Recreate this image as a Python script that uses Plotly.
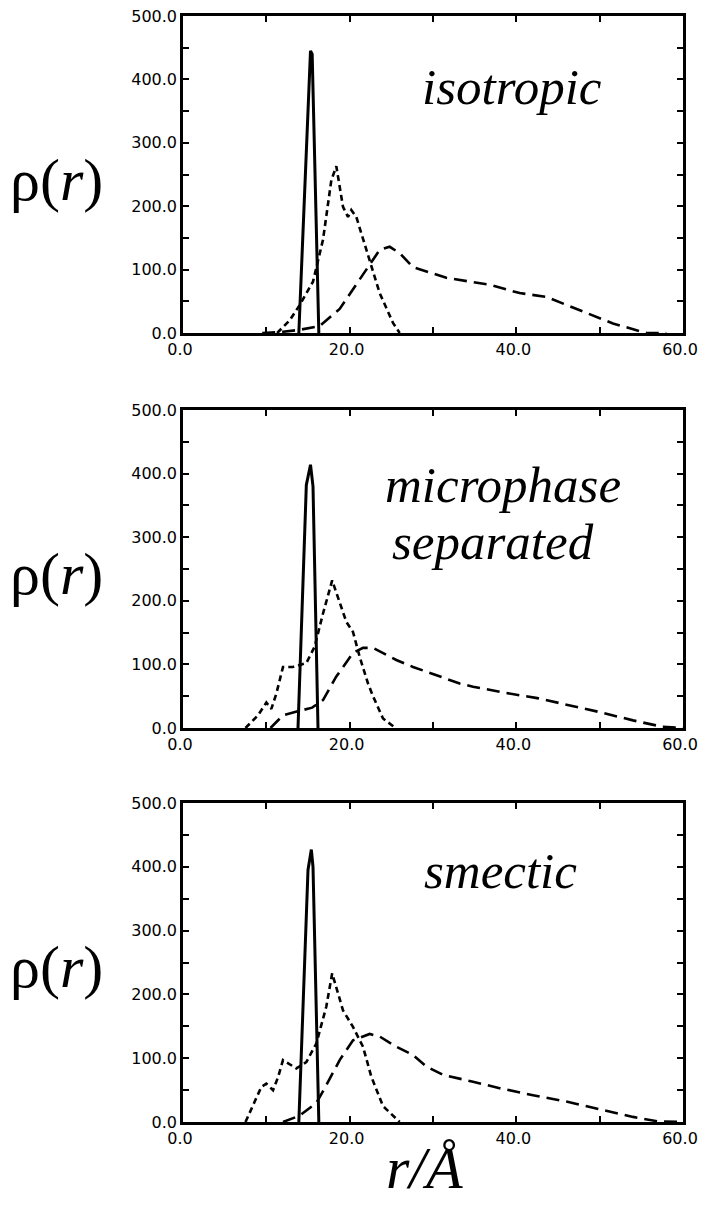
import plotly.graph_objects as go

# The page body has an 8px default margin, so the figure is offset by 8px;
# its height is reduced so the page does not scroll vertically.
PAGE_W, PAGE_H = 706, 1211
OFF = 8
W, H = PAGE_W - OFF, PAGE_H - 2 * OFF

# ---------------- data ----------------
# Panel 1: isotropic
r1_solid = [13.9, 15.3, 15.5, 16.3]
rho1_solid = [0, 445, 440, 0]
r1_short = [11.3, 12.8, 14.0, 15.6, 16.8, 17.8, 18.4, 19.2, 19.8, 20.2, 20.8, 22.0, 23.6, 25.2, 26.0]
rho1_short = [0, 20, 44, 81, 147, 241, 263, 199, 183, 194, 183, 131, 63, 16, 0]
r1_long = [9.5, 12.0, 14.0, 16.4, 18.8, 21.2, 23.6, 24.8, 26.0, 27.6, 31.6, 36.8, 40.4, 43.6, 47.6, 51.6, 55.6, 58.0]
rho1_long = [0, 2, 5, 11, 38, 85, 131, 136, 126, 104, 87, 76, 63, 57, 36, 15, 0, 0]

# Panel 2: microphase separated
r2_solid = [13.8, 14.8, 15.3, 15.6, 16.2]
rho2_solid = [0, 382, 414, 380, 0]
r2_short = [7.5, 9.0, 10.0, 10.6, 11.2, 12.0, 13.2, 14.8, 15.8, 16.8, 17.9, 18.8, 19.6, 20.4, 21.2, 22.2, 22.8, 24.0, 25.5]
rho2_short = [0, 20, 40, 30, 54, 96, 96, 102, 128, 180, 232, 196, 167, 151, 112, 70, 50, 15, 0]
r2_long = [10.5, 12.0, 14.0, 15.5, 16.8, 18.4, 20.4, 21.6, 22.8, 25.6, 27.6, 30.8, 33.2, 34.8, 38.8, 42.5, 46.0, 50.0, 54.0, 57.5, 60.0]
rho2_long = [0, 20, 27, 32, 44, 81, 118, 126, 126, 107, 96, 81, 70, 65, 55, 47, 37, 25, 12, 2, 0]

# Panel 3: smectic
r3_solid = [13.9, 15.0, 15.4, 15.6, 16.3]
rho3_solid = [0, 395, 427, 400, 0]
r3_short = [7.5, 9.4, 10.0, 10.8, 11.4, 12.0, 13.6, 14.8, 16.0, 17.2, 17.9, 19.2, 20.4, 21.6, 22.6, 24.0, 26.0]
rho3_short = [0, 55, 60, 50, 70, 97, 84, 94, 123, 181, 233, 175, 149, 118, 71, 25, 0]
r3_long = [12.0, 14.0, 16.0, 17.0, 18.8, 20.4, 22.4, 23.6, 25.6, 27.6, 29.2, 31.2, 34.8, 38.0, 42.0, 46.0, 50.0, 54.0, 57.0, 60.0]
rho3_long = [0, 10, 30, 53, 97, 128, 138, 134, 118, 105, 87, 74, 63, 53, 42, 32, 20, 8, 1, 0]

x_ticks = [0, 20, 40, 60]
y_ticks = [0, 100, 200, 300, 400, 500]

panels = [
    (r1_solid, rho1_solid, r1_short, rho1_short, r1_long, rho1_long),
    (r2_solid, rho2_solid, r2_short, rho2_short, r2_long, rho2_long),
    (r3_solid, rho3_solid, r3_short, rho3_short, r3_long, rho3_long),
]

# ---------------- layout geometry (page pixels) ----------------
px_left, px_right = 183, 683
px_tops = [16, 410, 803]
px_bots = [333, 728, 1122]


def fx(px):
    return (px - OFF) / W


def fy(py):
    return 1 - (py - OFF) / H


SERIF = "Liberation Serif, Times New Roman, Times, serif"

fig = go.Figure()

for i, (rs, ys, rsh, ysh, rl, yl) in enumerate(panels):
    xa = "x" if i == 0 else f"x{i+1}"
    ya = "y" if i == 0 else f"y{i+1}"
    fig.add_trace(go.Scatter(x=rs, y=ys, mode="lines", xaxis=xa, yaxis=ya,
                             line=dict(color="black", width=3), showlegend=False))
    fig.add_trace(go.Scatter(x=rsh, y=ysh, mode="lines", xaxis=xa, yaxis=ya,
                             line=dict(color="black", width=2.6, dash="6px,4px"), showlegend=False))
    fig.add_trace(go.Scatter(x=rl, y=yl, mode="lines", xaxis=xa, yaxis=ya,
                             line=dict(color="black", width=2.6, dash="13px,7px"), showlegend=False))

tickfont = dict(family="DejaVu Sans", size=16, color="black")
for i in range(3):
    xname = "xaxis" if i == 0 else f"xaxis{i+1}"
    yname = "yaxis" if i == 0 else f"yaxis{i+1}"
    ya = "y" if i == 0 else f"y{i+1}"
    xa = "x" if i == 0 else f"x{i+1}"
    fig.layout[xname] = dict(
        domain=[fx(px_left), fx(px_right)], anchor=ya, range=[0, 60], automargin=False,
        tickvals=x_ticks, ticktext=[f"{v:.1f}" for v in x_ticks], ticklabeloverflow="allow",
        ticklabelshift=-3,
        ticks="inside", ticklen=6, tickwidth=2, tickcolor="black",
        minor=dict(tickvals=[10, 30, 50], ticks="inside", ticklen=6, tickwidth=2, tickcolor="black"),
        showline=True, linewidth=2.5, linecolor="black", mirror="allticks",
        showgrid=False, zeroline=False, tickfont=tickfont, fixedrange=True,
    )
    fig.layout[yname] = dict(
        domain=[fy(px_bots[i]), fy(px_tops[i])], anchor=xa, range=[0, 500], automargin=False,
        tickvals=y_ticks, ticktext=[f"{v:.1f}" for v in y_ticks], ticklabeloverflow="allow",
        ticks="inside", ticklen=6, tickwidth=2, tickcolor="black",
        minor=dict(tickvals=[50, 150, 250, 350, 450], ticks="inside", ticklen=6, tickwidth=2, tickcolor="black"),
        showline=True, linewidth=2.5, linecolor="black", mirror="allticks",
        showgrid=False, zeroline=False, tickfont=tickfont, fixedrange=True,
    )

annotations = []
# y-axis labels rho(r)
for i in range(3):
    cy = px_tops[i] + 164
    annotations.append(dict(
        text="ρ(<i>r</i>)", x=fx(56), y=fy(cy), xref="paper", yref="paper",
        xanchor="center", yanchor="middle", showarrow=False,
        font=dict(family=SERIF, size=60, color="black")))

# phase labels
serif_it = dict(family=SERIF, size=51, color="black")
annotations.append(dict(text="<i>isotropic</i>", x=fx(512), y=fy(87), xref="paper", yref="paper",
                        xanchor="center", yanchor="middle", showarrow=False, font=serif_it))
annotations.append(dict(text="<i>microphase</i>", x=fx(503), y=fy(485), xref="paper", yref="paper",
                        xanchor="center", yanchor="middle", showarrow=False, font=serif_it))
annotations.append(dict(text="<i>separated</i>", x=fx(493), y=fy(542), xref="paper", yref="paper",
                        xanchor="center", yanchor="middle", showarrow=False, font=serif_it))
annotations.append(dict(text="<i>smectic</i>", x=fx(500), y=fy(871), xref="paper", yref="paper",
                        xanchor="center", yanchor="middle", showarrow=False, font=serif_it))
# x-axis label
annotations.append(dict(text="<i>r/Å</i>", x=fx(424), y=0, xref="paper", yref="paper",
                        xanchor="center", yanchor="bottom", showarrow=False,
                        font=dict(family=SERIF, size=60, color="black")))

fig.update_layout(
    width=W, height=H, margin=dict(l=0, r=0, t=0, b=0, autoexpand=False),
    paper_bgcolor="white", plot_bgcolor="white",
    annotations=annotations, showlegend=False,
)

fig.write_html("out.html")
